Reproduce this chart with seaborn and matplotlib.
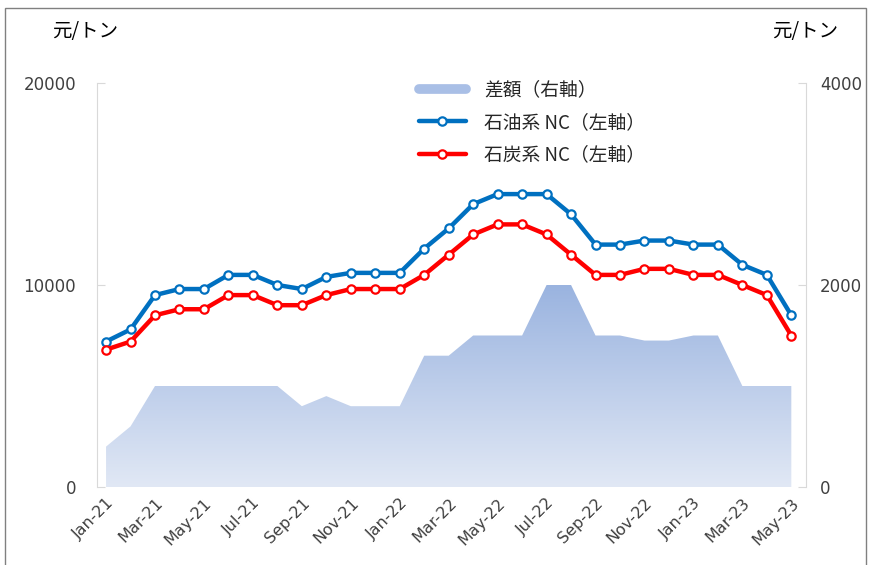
import numpy as np
import pandas as pd
import matplotlib
matplotlib.use("Agg")
import matplotlib.pyplot as plt
import seaborn as sns
from matplotlib.lines import Line2D
from matplotlib.patches import Rectangle
from matplotlib.colors import LinearSegmentedColormap

months = pd.date_range("2021-01-01", "2023-05-01", freq="MS")
month_labels = [d.strftime("%b-%y") for d in months]

# 石油系NC (left axis)
oil_nc = [7200, 7800, 9500, 9800, 9800, 10500, 10500, 10000, 9800, 10400,
          10600, 10600, 10600, 11800, 12800, 14000, 14500, 14500, 14500, 13500,
          12000, 12000, 12200, 12200, 12000, 12000, 11000, 10500, 8500]
# 石炭系NC (left axis)
coal_nc = [6800, 7200, 8500, 8800, 8800, 9500, 9500, 9000, 9000, 9500,
           9800, 9800, 9800, 10500, 11500, 12500, 13000, 13000, 12500, 11500,
           10500, 10500, 10800, 10800, 10500, 10500, 10000, 9500, 7500]
# 差額 (right axis)
spread = [400, 600, 1000, 1000, 1000, 1000, 1000, 1000, 800, 900,
          800, 800, 800, 1300, 1300, 1500, 1500, 1500, 2000, 2000,
          1500, 1500, 1450, 1450, 1500, 1500, 1000, 1000, 1000]

df = pd.DataFrame({
    "idx": np.arange(len(months)),
    "oil": oil_nc,
    "coal": coal_nc,
    "spread": spread,
})

sns.set_style("white")
plt.rcParams["font.family"] = ["Noto Sans CJK JP", "DejaVu Sans"]

fig = plt.figure(figsize=(8.71, 5.65), dpi=100)
ax = fig.add_axes([97 / 871, 1 - 487 / 565, (806 - 97) / 871, (487 - 83) / 565])
ax2 = ax.twinx()

# area with vertical gradient on the right axis
poly = ax2.fill_between(df["idx"], 0, df["spread"], color="none", lw=0)
cmap = LinearSegmentedColormap.from_list("grad", ["#E1E8F5", "#98B2DF"])
grad = np.linspace(0, 1, 256).reshape(-1, 1)
img = ax2.imshow(grad, cmap=cmap, aspect="auto", origin="lower",
                 extent=[0, len(months) - 1, 0, 2050], zorder=1)
img.set_clip_path(poly.get_paths()[0], transform=ax2.transData)

# lines on the left axis
sns.lineplot(data=df, x="idx", y="oil", ax=ax, color="#0070C0", lw=3.2,
             marker="o", markersize=6, markerfacecolor="white",
             markeredgecolor="#0070C0", markeredgewidth=1.6, zorder=3)
sns.lineplot(data=df, x="idx", y="coal", ax=ax, color="#FF0000", lw=3.2,
             marker="o", markersize=6, markerfacecolor="white",
             markeredgecolor="#FF0000", markeredgewidth=1.6, zorder=3)

ax.set_zorder(ax2.get_zorder() + 1)
ax.patch.set_visible(False)

ax.set_xlim(-0.37, len(months) - 1 + 0.6)
ax.set_ylim(0, 20000)
ax2.set_ylim(0, 4000)
ax.set_yticks([0, 10000, 20000])
ax2.set_yticks([0, 2000, 4000])
ax.set_xticks(df["idx"][::2])
ax.set_xticklabels(month_labels[::2], rotation=45, ha="right",
                   rotation_mode="anchor", fontsize=11.5, color="#404040",
                   family="DejaVu Sans")
ax.set_xlabel("")
ax.set_ylabel("")
ax2.set_ylabel("")

for a in (ax, ax2):
    for s in a.spines.values():
        s.set_visible(False)
ax.spines["left"].set_visible(True)
ax.spines["left"].set_color("#D9D9D9")
ax2.spines["right"].set_visible(True)
ax2.spines["right"].set_color("#D9D9D9")

ax.tick_params(axis="y", direction="in", length=6, color="#D9D9D9",
               labelsize=12, labelcolor="#404040", pad=15, left=True)
ax2.tick_params(axis="y", direction="in", length=6, color="#D9D9D9",
                labelsize=12, labelcolor="#404040", pad=10, right=True)
ax.tick_params(axis="x", length=0, pad=6)
for lab in ax.get_yticklabels() + ax2.get_yticklabels():
    lab.set_family("DejaVu Sans")

handles = [
    Line2D([], [], color="#A9BFE6", lw=7),
    Line2D([], [], color="#0070C0", lw=3.2, marker="o", markersize=6,
           markerfacecolor="white", markeredgewidth=1.6),
    Line2D([], [], color="#FF0000", lw=3.2, marker="o", markersize=6,
           markerfacecolor="white", markeredgewidth=1.6),
]
labels = ["差額（右軸）", "石油系 NC（左軸）", "石炭系 NC（左軸）"]
ax.legend(handles, labels, loc="upper left", bbox_to_anchor=(0.43, 1.05),
          frameon=False, fontsize=13.5, handlelength=2.5, labelspacing=0.6,
          handletextpad=1.0)

fig.text(85 / 871, 1 - 32 / 565, "元/トン", ha="center", va="center",
         fontsize=14, color="#000000")
fig.text(805 / 871, 1 - 32 / 565, "元/トン", ha="center", va="center",
         fontsize=14, color="#000000")

fig.patches.append(Rectangle((5 / 871, -0.05), 861 / 871, 1.05 - 8 / 565,
                             transform=fig.transFigure, fill=False,
                             edgecolor="#808080", lw=1))

fig.savefig("out.png", dpi=100)
